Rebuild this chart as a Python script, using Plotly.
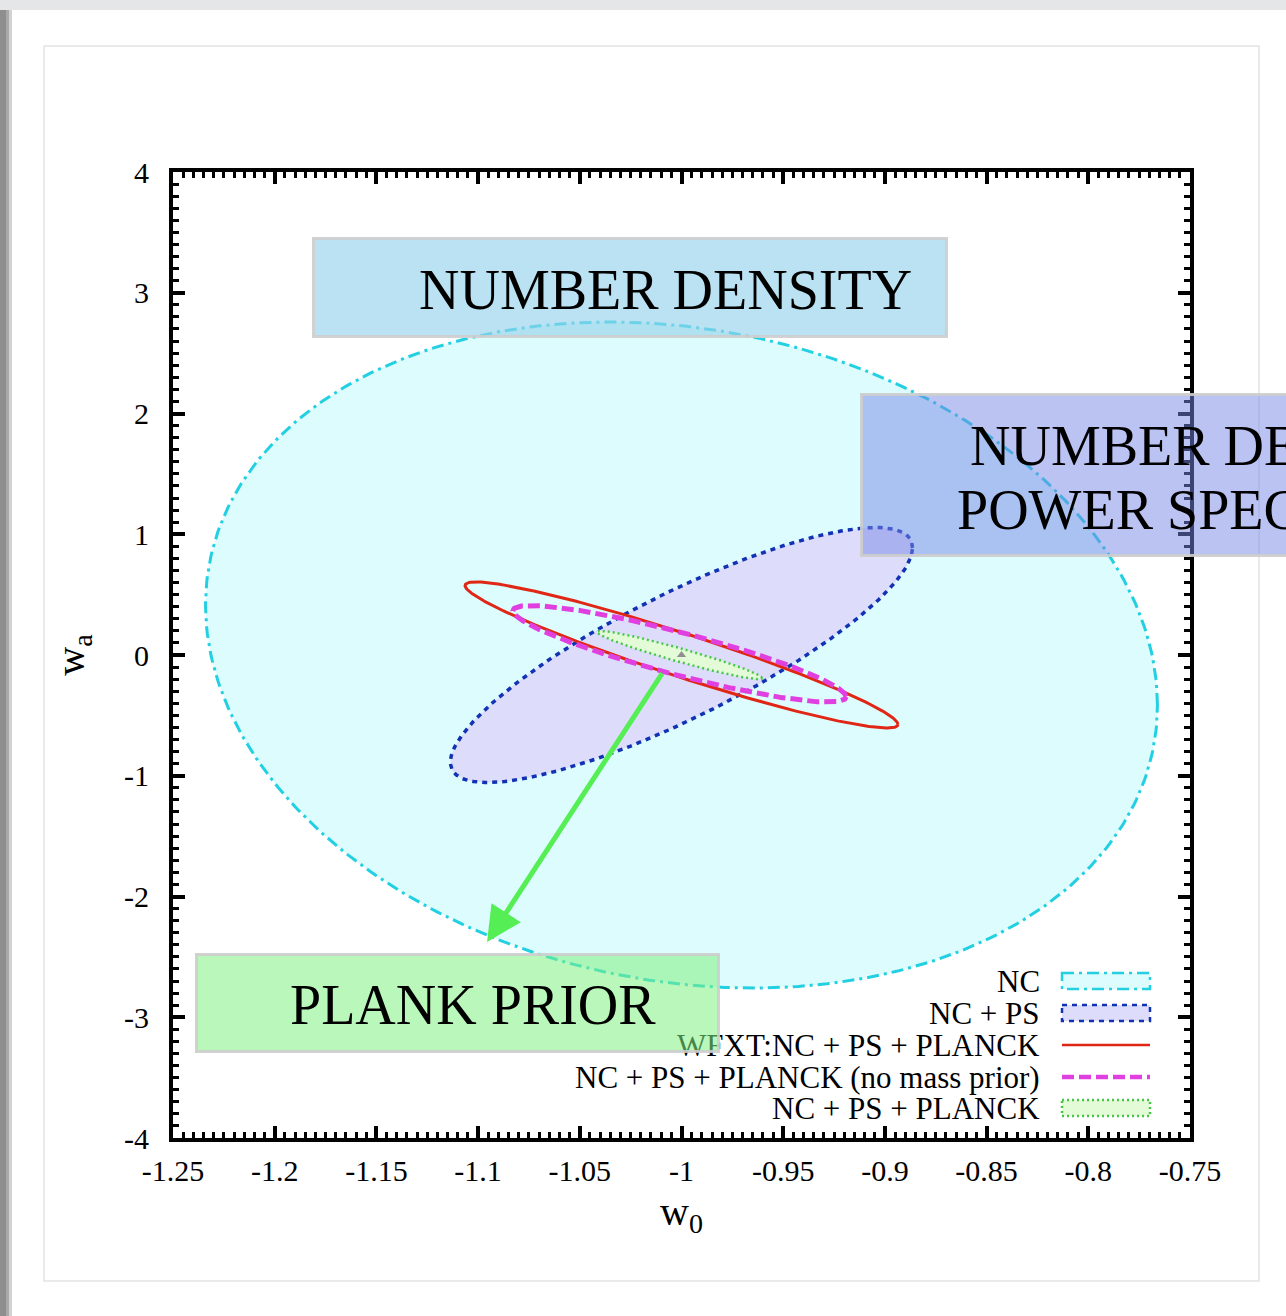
import numpy as np
import plotly.graph_objects as go

# ---- Fisher-forecast ellipses in the (w0, wa) plane ----
ellipse_names = [
    "NC",
    "NC + PS",
    "WFXT:NC + PS + PLANCK",
    "NC + PS + PLANCK (no mass prior)",
    "NC + PS + PLANCK",
]
center_w0 = [-1.0, -1.0, -1.0, -1.001, -1.001]
center_wa = [0.0, 0.0, 0.0, 0.01, 0.0]
half_w0 = [0.234, 0.1136, 0.1064, 0.0819, 0.0406]   # half extent along w0
half_wa = [2.758, 1.056, 0.605, 0.40, 0.20]         # half extent along wa
corr = [-0.15, 0.84, -0.95, -0.89, -0.957]          # w0-wa correlation

fiducial_w0 = [-1.0]
fiducial_wa = [0.0]

# arrow from the combined constraint down to the prior label
arrow_w0 = [-1.009, -1.0956]
arrow_wa = [-0.14, -2.377]

x_ticks = [-1.25, -1.2, -1.15, -1.1, -1.05, -1.0, -0.95, -0.9, -0.85, -0.8, -0.75]
x_tick_text = ["-1.25", "-1.2", "-1.15", "-1.1", "-1.05", "-1", "-0.95", "-0.9", "-0.85", "-0.8", "-0.75"]
y_ticks = [4, 3, 2, 1, 0, -1, -2, -3, -4]
y_tick_text = ["4", "3", "2", "1", "0", "-1", "-2", "-3", "-4"]

# ---- styles ----
line_colors = ["#22d0e2", "#1232b4", "#e02614", "#e040e0", "#46c846"]
fill_colors = ["#dcfcfd", "#dddcfb", None, None, "#e4fbd8"]
line_dash = ["12px,5px,3px,5px", "5px,5px", "solid", "12px,5px", "2px,3px"]
line_width = [3, 3.5, 3, 5, 2.5]

W, H = 1286, 1316
ML, MR, MT, MB = 173, 96, 172, 178
PW, PH = W - ML - MR, H - MT - MB


def px(xp):
    return (xp - ML) / PW


def py(yp):
    return (H - MB - yp) / PH


SERIF = "Liberation Serif"

fig = go.Figure()

t = np.linspace(0, 2 * np.pi, 400)
for i, name in enumerate(ellipse_names):
    r = corr[i]
    xs = center_w0[i] + half_w0[i] * np.cos(t)
    ys = center_wa[i] + half_wa[i] * (r * np.cos(t) + np.sqrt(1 - r * r) * np.sin(t))
    fig.add_trace(go.Scatter(
        x=xs, y=ys, mode="lines", name=name,
        fill="toself" if fill_colors[i] else None,
        fillcolor=fill_colors[i],
        line=dict(color=line_colors[i], width=line_width[i], dash=line_dash[i]),
        showlegend=False, hoverinfo="skip",
    ))

fig.add_trace(go.Scatter(
    x=fiducial_w0, y=fiducial_wa, mode="markers",
    marker=dict(symbol="triangle-up", size=8, color="#909090"),
    showlegend=False, hoverinfo="skip",
))

shapes = []
annotations = []

# page background: grey top strip, left shadow, card outline
shapes.append(dict(type="rect", xref="paper", yref="paper", x0=px(0), x1=px(W), y0=py(0), y1=py(10),
                   fillcolor="#e4e6e8", line=dict(width=0), layer="below"))
for x0, x1, c in [(0, 6, "#8e8e8e"), (6, 9, "#a9a9a9"), (9, 12, "#d2d2d2")]:
    shapes.append(dict(type="rect", xref="paper", yref="paper", x0=px(x0), x1=px(x1), y0=py(10), y1=py(H),
                       fillcolor=c, line=dict(width=0), layer="below"))
shapes.append(dict(type="rect", xref="paper", yref="paper", x0=px(44), x1=px(1259), y0=py(46), y1=py(1281),
                   fillcolor="rgba(0,0,0,0)", line=dict(color="#e4e4e4", width=1.5), layer="below"))

# legend (text on the left, key on the right)
row_y = [981, 1013, 1045, 1077, 1108]
key_x0, key_x1 = 1062, 1150
for i, name in enumerate(ellipse_names):
    annotations.append(dict(xref="paper", yref="paper", x=px(1042), y=py(row_y[i]),
                            xanchor="right", yanchor="middle", showarrow=False, text=name,
                            font=dict(family=SERIF, size=31, color="black")))
    if fill_colors[i]:
        shapes.append(dict(type="rect", xref="paper", yref="paper",
                           x0=px(key_x0), x1=px(key_x1), y0=py(row_y[i] - 8), y1=py(row_y[i] + 8),
                           fillcolor=fill_colors[i],
                           line=dict(color=line_colors[i], width=2.5, dash=line_dash[i]),
                           layer="above"))
    else:
        shapes.append(dict(type="line", xref="paper", yref="paper",
                           x0=px(key_x0), x1=px(key_x1), y0=py(row_y[i]), y1=py(row_y[i]),
                           line=dict(color=line_colors[i], width=line_width[i] - 0.5, dash=line_dash[i]),
                           layer="above"))


def box(x0, y0, x1, y1, color):
    bw = 3
    annotations.append(dict(xref="paper", yref="paper", x=px((x0 + x1) / 2), y=py((y0 + y1) / 2),
                            xanchor="center", yanchor="middle", showarrow=False, text="\u00a0",
                            width=(x1 - x0) - 2 * bw, height=(y1 - y0) - 2 * bw,
                            bgcolor=color, bordercolor="rgba(205,205,205,0.9)", borderwidth=bw, borderpad=0,
                            font=dict(size=10)))


def label(text, xp, yp, anchor="center", size=56):
    annotations.append(dict(xref="paper", yref="paper", x=px(xp), y=py(yp),
                            xanchor=anchor, yanchor="middle", showarrow=False, text=text,
                            font=dict(family=SERIF, size=size, color="black")))


box(312, 237, 948, 338, "rgba(150,210,235,0.65)")
label("NUMBER DENSITY", 665, 290)

box(860, 393, 1420, 557, "rgba(120,135,230,0.5)")
label("NUMBER DENSITY +", 968, 446, anchor="left")
label("POWER SPECTRUM", 955, 510, anchor="left")

box(195, 953, 720, 1053, "rgba(130,240,130,0.55)")
label("PLANK PRIOR", 473, 1005)

annotations.append(dict(x=arrow_w0[1], y=arrow_wa[1], ax=arrow_w0[0], ay=arrow_wa[0],
                        xref="x", yref="y", axref="x", ayref="y", text="", showarrow=True,
                        arrowhead=2, arrowsize=1.4, arrowwidth=5, arrowcolor="#55ee55", standoff=0))

fig.update_layout(
    width=W, height=H,
    margin=dict(l=ML, r=MR, t=MT, b=MB),
    paper_bgcolor="white", plot_bgcolor="white",
    shapes=shapes, annotations=annotations,
    showlegend=False,
)

axis_common = dict(
    ticks="inside", ticklen=12, tickwidth=4, tickcolor="black",
    showline=True, linewidth=4, linecolor="black", mirror="allticks",
    showgrid=False, zeroline=False,
    tickfont=dict(family=SERIF, size=30, color="black"),
)

fig.update_xaxes(
    range=[-1.25, -0.75], tickmode="array", tickvals=x_ticks, ticktext=x_tick_text,
    minor=dict(tickmode="linear", tick0=-1.25, dtick=0.005, ticks="inside", ticklen=6,
               tickwidth=3, tickcolor="black", showgrid=False),
    ticklabelstandoff=3,
    title=dict(text="w<sub>0</sub>", font=dict(family=SERIF, size=40, color="black"), standoff=12),
    **axis_common,
)
fig.update_yaxes(
    range=[-4, 4], tickmode="array", tickvals=y_ticks, ticktext=y_tick_text,
    minor=dict(tickmode="linear", tick0=-4, dtick=0.1, ticks="inside", ticklen=6,
               tickwidth=3, tickcolor="black", showgrid=False),
    ticklabelstandoff=14,
    title=dict(text="w<sub>a</sub>", font=dict(family=SERIF, size=40, color="black"), standoff=28),
    **axis_common,
)

fig.write_html("out.html")
